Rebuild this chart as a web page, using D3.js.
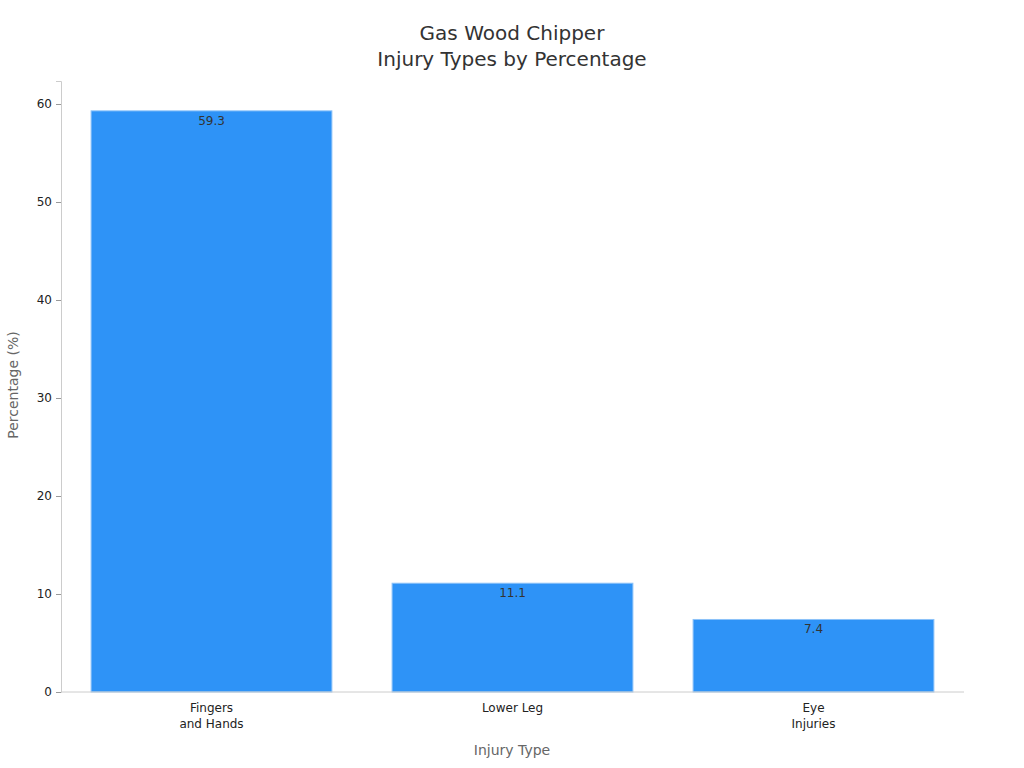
<!DOCTYPE html>
<html><head><meta charset="utf-8">
<script src="https://cdn.jsdelivr.net/npm/d3@7"></script>
<style>body{margin:0;background:#fff;font-family:"DejaVu Sans",sans-serif}</style>
</head><body>
<svg id="c" width="1024" height="768"></svg>
<script>
const categories = [["Fingers","and Hands"],["Lower Leg"],["Eye","Injuries"]];
const values = [59.3, 11.1, 7.4];
const yTicks = [0,10,20,30,40,50,60];

const root = d3.select("#c");
root.append("text").attr("x",512).attr("y",40).attr("text-anchor","middle").attr("font-size",20).attr("fill","#333").text("Gas Wood Chipper");
root.append("text").attr("x",512).attr("y",66).attr("text-anchor","middle").attr("font-size",20).attr("fill","#333").text("Injury Types by Percentage");
const svg = root.append("g").attr("transform","translate(1,1)");
const L=60,R=963,T=80,B=691;
const x = d3.scaleBand().domain(d3.range(values.length)).range([L,R]).paddingInner(0.2).paddingOuter(0.1);
const y = d3.scaleLinear().domain([0,60*(B-T)/(B-103)]).range([B,T]);

svg.selectAll("rect.bar").data(values).join("rect").attr("class","bar")
  .attr("x",(d,i)=>x(i)).attr("width",x.bandwidth())
  .attr("y",d=>y(d)).attr("height",d=>B-y(d))
  .attr("fill","#2E93F7").attr("stroke","#8cc2f9").attr("stroke-width",1);
svg.selectAll("text.val").data(values).join("text").attr("class","val")
  .attr("x",(d,i)=>x(i)+x.bandwidth()/2).attr("y",d=>y(d)+14)
  .attr("text-anchor","middle").attr("font-size",12).attr("fill","#333").text(d=>d);

const ya = svg.append("g").attr("transform",`translate(${L},0)`).call(d3.axisLeft(y).tickValues(yTicks).tickSize(5).tickPadding(4));
ya.select(".domain").attr("stroke","#ccc");
ya.selectAll(".tick line").attr("stroke","#999");
ya.selectAll("text").attr("font-size",12).attr("fill","#222").attr("font-family","DejaVu Sans");

svg.append("line").attr("x1",L).attr("x2",R).attr("y1",B).attr("y2",B).attr("stroke","#ccc");
categories.forEach((c,i)=>{
  const t = svg.append("text").attr("x",x(i)+x.bandwidth()/2).attr("y",711).attr("text-anchor","middle").attr("font-size",12).attr("fill","#222");
  c.forEach((s,j)=>t.append("tspan").attr("x",x(i)+x.bandwidth()/2).attr("dy",j?16:0).text(s));
});
svg.append("text").attr("x",511).attr("y",754).attr("text-anchor","middle").attr("font-size",14).attr("fill","#666").text("Injury Type");
svg.append("text").attr("transform","translate(17,384) rotate(-90)").attr("text-anchor","middle").attr("font-size",14).attr("fill","#666").text("Percentage (%)");
</script>
</body></html>
